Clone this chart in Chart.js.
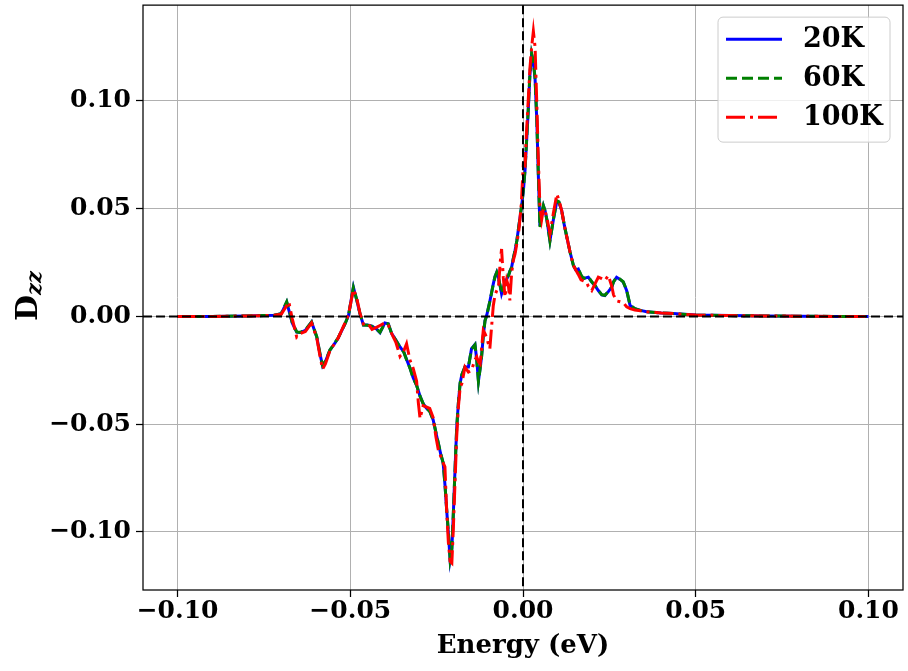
<!DOCTYPE html>
<html>
<head>
<meta charset="utf-8">
<script src="https://cdn.jsdelivr.net/npm/chart.js@4.4.0/dist/chart.umd.min.js"></script>
<style>
  html, body { margin: 0; padding: 0; background: #fff; }
  #wrap { width: 908px; height: 671px; }
</style>
</head>
<body>
<div id="wrap"><canvas id="dzzChart" width="908" height="671"></canvas></div>
<script>
// energy grid (eV) and D_zz for the three temperatures
const energy = [
  -0.1000, -0.0900, -0.0800, -0.0750, -0.0720, -0.0700, -0.0690, -0.0684, -0.0678, -0.0668,
  -0.0655, -0.0645, -0.0630, -0.0612, -0.0597, -0.0587, -0.0580, -0.0572, -0.0559, -0.0545,
  -0.0535, -0.0515, -0.0505, -0.0491, -0.0482, -0.0472, -0.0462, -0.0450, -0.0437, -0.0423,
  -0.0414, -0.0400, -0.0390, -0.0380, -0.0368, -0.0356, -0.0345, -0.0337, -0.0327, -0.0318,
  -0.0308, -0.0303, -0.0298, -0.0289, -0.0280, -0.0270, -0.0260, -0.0252, -0.0245, -0.0238,
  -0.0231, -0.0226, -0.0221, -0.0216, -0.0211, -0.0206, -0.0202, -0.0197, -0.0192, -0.0187,
  -0.0182, -0.0177, -0.0168, -0.0158, -0.0149, -0.0139, -0.0134, -0.0129, -0.0124, -0.0120,
  -0.0115, -0.0110, -0.0105, -0.0096, -0.0091, -0.0086, -0.0081, -0.0076, -0.0071, -0.0066,
  -0.0062, -0.0057, -0.0052, -0.0047, -0.0042, -0.0038, -0.0033, -0.0028, -0.0023, -0.0018,
  -0.0012, -0.0005, 0.0001, 0.0006, 0.0010, 0.0015, 0.0020, 0.0025, 0.0030, 0.0035,
  0.0040, 0.0044, 0.0049, 0.0054, 0.0059, 0.0064, 0.0069, 0.0078, 0.0088, 0.0098,
  0.0104, 0.0112, 0.0120, 0.0128, 0.0136, 0.0146, 0.0153, 0.0160, 0.0168, 0.0175,
  0.0184, 0.0189, 0.0199, 0.0208, 0.0218, 0.0228, 0.0237, 0.0247, 0.0257, 0.0262,
  0.0271, 0.0281, 0.0290, 0.0300, 0.0310, 0.0324, 0.0340, 0.0358, 0.0400, 0.0435,
  0.0500, 0.0600, 0.0700, 0.0800, 0.0900, 0.1000
];

const d20K = [
  0, 0, 0.0002, 0.0004, 0.0005, 0.0012, 0.0045, 0.0066, 0.0030, -0.0030,
  -0.0073, -0.0075, -0.0065, -0.0026, -0.0096, -0.0180, -0.0230, -0.0210, -0.0157, -0.0125,
  -0.0100, -0.0034, 0.0005, 0.0136, 0.0080, 0.0013, -0.0040, -0.0040, -0.0045, -0.0060,
  -0.0075, -0.0030, -0.0034, -0.0080, -0.0110, -0.0142, -0.0165, -0.0200, -0.0240, -0.0285,
  -0.0320, -0.0345, -0.0370, -0.0405, -0.0425, -0.0440, -0.0481, -0.0540, -0.0590, -0.0640,
  -0.0682, -0.0780, -0.0898, -0.1006, -0.1130, -0.1080, -0.0930, -0.0720, -0.0520, -0.0400,
  -0.0310, -0.0270, -0.0235, -0.0235, -0.0150, -0.0130, -0.0200, -0.0300, -0.0240, -0.0188,
  -0.0090, -0.0019, 0.0005, 0.0070, 0.0110, 0.0151, 0.0185, 0.0205, 0.0180, 0.0140,
  0.0105, 0.0130, 0.0160, 0.0174, 0.0190, 0.0210, 0.0228, 0.0270, 0.0306, 0.0350,
  0.0420, 0.0500, 0.0580, 0.0680, 0.0800, 0.0950, 0.1120, 0.1216, 0.1180, 0.1100,
  0.0907, 0.0676, 0.0420, 0.0480, 0.0514, 0.0490, 0.0450, 0.0352, 0.0450, 0.0535,
  0.0530, 0.0491, 0.0420, 0.0360, 0.0300, 0.0236, 0.0215, 0.0220, 0.0190, 0.0175,
  0.0180, 0.0182, 0.0160, 0.0144, 0.0120, 0.0100, 0.0097, 0.0115, 0.0136, 0.0160,
  0.0182, 0.0172, 0.0160, 0.0120, 0.0050, 0.0036, 0.0028, 0.0022, 0.0016, 0.0013,
  0.0006, 0.0004, 0.0002, 0.0001, 0, 0
];

const d60K = [
  0, 0, 0.0002, 0.0004, 0.0005, 0.0012, 0.0048, 0.0068, 0.0035, -0.0028,
  -0.0072, -0.0074, -0.0063, -0.0026, -0.0094, -0.0178, -0.0228, -0.0208, -0.0156, -0.0124,
  -0.0099, -0.0034, 0.0006, 0.0134, 0.0082, 0.0014, -0.0040, -0.0041, -0.0046, -0.0060,
  -0.0074, -0.0031, -0.0035, -0.0080, -0.0111, -0.0143, -0.0166, -0.0201, -0.0241, -0.0286,
  -0.0320, -0.0346, -0.0371, -0.0405, -0.0425, -0.0441, -0.0480, -0.0538, -0.0588, -0.0638,
  -0.0680, -0.0778, -0.0895, -0.1000, -0.1125, -0.1078, -0.0928, -0.0718, -0.0518, -0.0399,
  -0.0309, -0.0270, -0.0234, -0.0234, -0.0152, -0.0132, -0.0202, -0.0302, -0.0242, -0.0190,
  -0.0092, -0.0020, 0.0004, 0.0069, 0.0109, 0.0150, 0.0184, 0.0204, 0.0180, 0.0141,
  0.0106, 0.0131, 0.0160, 0.0174, 0.0190, 0.0210, 0.0228, 0.0270, 0.0306, 0.0350,
  0.0420, 0.0502, 0.0585, 0.0685, 0.0805, 0.0955, 0.1125, 0.1220, 0.1185, 0.1105,
  0.0910, 0.0680, 0.0413, 0.0478, 0.0514, 0.0490, 0.0450, 0.0350, 0.0450, 0.0537,
  0.0532, 0.0491, 0.0420, 0.0360, 0.0300, 0.0236, 0.0218, 0.0222, 0.0192, 0.0176,
  0.0182, 0.0183, 0.0161, 0.0145, 0.0121, 0.0101, 0.0098, 0.0116, 0.0137, 0.0160,
  0.0182, 0.0173, 0.0161, 0.0122, 0.0052, 0.0036, 0.0028, 0.0022, 0.0016, 0.0013,
  0.0006, 0.0004, 0.0002, 0.0001, 0, 0
];

const d100K = [
  0, 0, 0.0002, 0.0004, 0.0005, 0.0010, 0.0035, 0.0050, 0.0068, -0.0010,
  -0.0096, -0.0080, -0.0070, -0.0030, -0.0100, -0.0190, -0.0245, -0.0220, -0.0160, -0.0125,
  -0.0100, -0.0030, 0.0010, 0.0125, 0.0090, 0.0015, -0.0035, -0.0030, -0.0060, -0.0050,
  -0.0042, -0.0030, -0.0040, -0.0080, -0.0120, -0.0185, -0.0160, -0.0127, -0.0204, -0.0240,
  -0.0300, -0.0400, -0.0474, -0.0415, -0.0420, -0.0427, -0.0470, -0.0560, -0.0620, -0.0650,
  -0.0680, -0.0698, -0.0900, -0.1050, -0.1137, -0.1145, -0.1000, -0.0780, -0.0560, -0.0420,
  -0.0330, -0.0312, -0.0235, -0.0258, -0.0250, -0.0200, -0.0188, -0.0210, -0.0220, -0.0150,
  -0.0065, -0.0080, -0.0100, -0.0150, -0.0050, 0.0050, 0.0100, 0.0120, 0.0136, 0.0250,
  0.0313, 0.0180, 0.0090, 0.0167, 0.0140, 0.0074, 0.0200, 0.0260, 0.0290, 0.0336,
  0.0400, 0.0520, 0.0707, 0.0700, 0.0850, 0.1000, 0.1150, 0.1250, 0.1324, 0.1250,
  0.0985, 0.0750, 0.0506, 0.0450, 0.0500, 0.0490, 0.0460, 0.0383, 0.0480, 0.0568,
  0.0540, 0.0491, 0.0420, 0.0360, 0.0300, 0.0236, 0.0215, 0.0195, 0.0170, 0.0165,
  0.0159, 0.0140, 0.0120, 0.0150, 0.0182, 0.0175, 0.0167, 0.0190, 0.0140, 0.0100,
  0.0072, 0.0068, 0.0064, 0.0045, 0.0036, 0.0030, 0.0026, 0.0022, 0.0016, 0.0013,
  0.0006, 0.0004, 0.0002, 0.0001, 0, 0
];

const xTicks = [-0.10, -0.05, 0.00, 0.05, 0.10];
const yTicks = [-0.10, -0.05, 0.00, 0.05, 0.10];

const serif = "'DejaVu Serif', serif";

function toPoints(ys) {
  return energy.map((x, i) => ({ x: x, y: ys[i] }));
}

function fmt(v) {
  const s = Math.abs(v) < 1e-9 ? '0.00' : v.toFixed(2);
  return s.replace('-', '\u2212');
}

// zero lines, frame, legend and axis titles (matplotlib look)
const decorPlugin = {
  id: 'decor',
  afterDatasetsDraw(chart) {
    const { ctx, chartArea: a, scales } = chart;
    const x0 = scales.x.getPixelForValue(0);
    const y0 = scales.y.getPixelForValue(0);
    ctx.save();
    ctx.strokeStyle = '#000';
    ctx.lineWidth = 2;
    ctx.setLineDash([9, 4]);
    ctx.beginPath(); ctx.moveTo(a.left, y0); ctx.lineTo(a.right, y0); ctx.stroke();
    ctx.beginPath(); ctx.moveTo(x0, a.top); ctx.lineTo(x0, a.bottom); ctx.stroke();
    ctx.setLineDash([]);
    ctx.lineWidth = 1.25;
    ctx.strokeRect(a.left, a.top, a.right - a.left, a.bottom - a.top);
    ctx.restore();
  },
  afterDraw(chart) {
    const { ctx, chartArea: a } = chart;
    ctx.save();

    // legend
    const bx = a.right - 185, by = a.top + 12, bw = 172, bh = 125;
    ctx.fillStyle = 'rgba(255,255,255,0.8)';
    ctx.strokeStyle = '#cccccc';
    ctx.lineWidth = 1;
    ctx.beginPath();
    ctx.roundRect(bx, by, bw, bh, 5);
    ctx.fill();
    ctx.stroke();
    ctx.font = 'bold 27px ' + serif;
    ctx.textBaseline = 'middle';
    ctx.textAlign = 'left';
    chart.data.datasets.forEach((ds, i) => {
      const ry = by + 22 + i * 39;
      ctx.strokeStyle = ds.borderColor;
      ctx.lineWidth = ds.borderWidth;
      ctx.setLineDash(ds.borderDash || []);
      ctx.beginPath(); ctx.moveTo(bx + 8, ry); ctx.lineTo(bx + 64, ry); ctx.stroke();
      ctx.setLineDash([]);
      ctx.fillStyle = '#000';
      ctx.fillText(ds.label, bx + 85, ry + 1);
    });

    // x title
    ctx.fillStyle = '#000';
    ctx.textAlign = 'center';
    ctx.textBaseline = 'alphabetic';
    ctx.font = 'bold 26px ' + serif;
    ctx.fillText('Energy (eV)', (a.left + a.right) / 2, 653);

    // y title: D with subscript zz
    ctx.translate(37, 321);
    ctx.rotate(-Math.PI / 2);
    ctx.textAlign = 'left';
    ctx.font = 'bold 30px ' + serif;
    ctx.fillText('D', 0, 0);
    const w = ctx.measureText('D').width;
    ctx.font = 'italic bold 21px ' + serif;
    ctx.fillText('zz', w, 4);
    ctx.restore();
  }
};

const ctx = document.getElementById('dzzChart').getContext('2d');

const dzzChart = new Chart(ctx, {
  type: 'line',
  data: {
    datasets: [{
      label: '20K',
      data: toPoints(d20K),
      borderColor: '#0000ff',
      borderWidth: 3,
      order: 3
    },
    {
      label: '60K',
      data: toPoints(d60K),
      borderColor: '#008000',
      borderDash: [11, 5],
      borderWidth: 3,
      order: 2
    },
    {
      label: '100K',
      data: toPoints(d100K),
      borderColor: '#ff0000',
      borderDash: [19, 5, 3, 5],
      borderWidth: 3,
      order: 1
    }
    ]
  },
  options: {
    responsive: false,
    animation: false,
    devicePixelRatio: 1,
    layout: { padding: { top: 5, right: 5, left: 0, bottom: 0 } },
    elements: {
      point: { radius: 0 },
      line: { tension: 0, fill: false, borderCapStyle: 'butt' }
    },
    plugins: {
      legend: { display: false },
      tooltip: { enabled: false }
    },
    scales: {
      x: {
        type: 'linear',
        min: -0.11,
        max: 0.11,
        afterBuildTicks: s => { s.ticks = xTicks.map(v => ({ value: v })); },
        afterFit: s => { s.height = 81; },
        border: { display: false },
        grid: { color: '#b0b0b0', lineWidth: 1, tickColor: '#000', tickLength: 7, tickWidth: 1.25 },
        ticks: {
          color: '#000',
          padding: -1,
          maxRotation: 0,
          font: { family: serif, size: 25, weight: 'bold' },
          callback: v => fmt(v)
        }
      },
      y: {
        min: -0.127,
        max: 0.1445,
        afterBuildTicks: s => { s.ticks = yTicks.map(v => ({ value: v })); },
        afterFit: s => { s.width = 143; },
        border: { display: false },
        grid: { color: '#b0b0b0', lineWidth: 1, tickColor: '#000', tickLength: 7, tickWidth: 1.25 },
        ticks: {
          color: '#000',
          padding: 5,
          font: { family: serif, size: 25, weight: 'bold', lineHeight: 0.01 },
          callback: v => fmt(v)
        }
      }
    }
  },
  plugins: [decorPlugin]
});
</script>
</body>
</html>
